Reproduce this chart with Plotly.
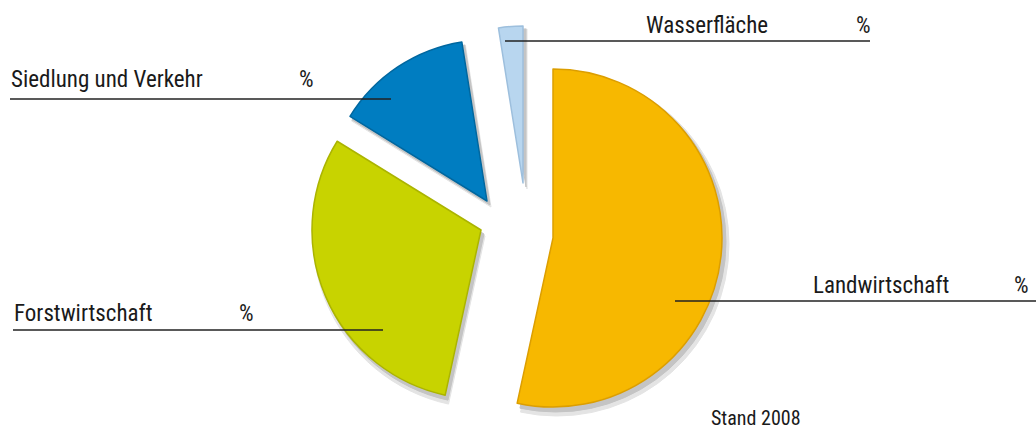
import plotly.graph_objects as go

W, H = 1036, 434

# data
categories = ["Landwirtschaft", "Forstwirtschaft", "Siedlung und Verkehr", "Wasserfläche"]
shares = [53.4, 30.4, 13.7, 2.5]
colors = ["#F7B800", "#C8D300", "#007DC1", "#B8D6EF"]
edge_colors = ["#DC9E00", "#ABB400", "#00679F", "#9DBFDD"]
pct_label = "%"
note = "Stand 2008"


def px(x):
    return x / W


def py(y):
    return 1 - y / H


FONT = "Roboto Condensed, Liberation Sans Narrow, DejaVu Sans Condensed, Noto Sans, sans-serif"
CLEAR = "rgba(255,255,255,0)"

# exploded-slice placement: tip (vertex) position and radius of each slice, in pixels
slice_geom = {
    "Landwirtschaft": (553, 238, 169),
    "Forstwirtschaft": (481, 230, 169),
    "Siedlung und Verkehr": (487, 201, 161),
    "Wasserfläche": (523, 183, 157),
}
shadow_layers = [(4, 6, 3, "#E4E4E4"), (3, 4, 1, "#C4C4C4")]


def dom(cx, cy, r):
    return dict(x=[px(cx - r), px(cx + r)], y=[py(cy + r), py(cy - r)])


fig = go.Figure()

# drop shadows (grey copies, slightly offset and enlarged)
for dx, dy, dr, shade in shadow_layers:
    for k, name in enumerate(categories):
        cx, cy, r = slice_geom[name]
        fig.add_trace(go.Pie(
            labels=categories, values=shares, sort=False, direction="clockwise",
            rotation=0, textinfo="none", hoverinfo="skip",
            marker=dict(colors=[shade if i == k else CLEAR for i in range(len(categories))],
                        line=dict(color=[shade if i == k else CLEAR
                                         for i in range(len(categories))],
                                  width=[1 if i == k else 0 for i in range(len(categories))])),
            domain=dom(cx + dx, cy + dy, r + dr), showlegend=False,
        ))

# coloured slices, one trace per exploded slice
for k, name in enumerate(categories):
    cx, cy, r = slice_geom[name]
    fig.add_trace(go.Pie(
        labels=categories, values=shares, sort=False, direction="clockwise",
        rotation=0, textinfo="none", hoverinfo="label+percent",
        marker=dict(colors=[colors[i] if i == k else CLEAR for i in range(len(categories))],
                    line=dict(color=[edge_colors[i] if i == k else CLEAR
                                     for i in range(len(categories))],
                              width=[1.5 if i == k else 0 for i in range(len(categories))])),
        domain=dom(cx, cy, r), showlegend=False,
    ))

# label layout: (text x, baseline y, pct x, line x0, line x1, line y)
label_layout = {
    "Siedlung und Verkehr": (10, 89, 298, 10, 391, 99),
    "Wasserfläche": (645, 35, 855, 505, 870, 41),
    "Forstwirtschaft": (13, 323, 238, 13, 383, 330),
    "Landwirtschaft": (812, 295, 1013, 675, 1036, 301),
}

FS = 23
annotations = []
shapes = []
for name in categories:
    tx, base, pxx, lx0, lx1, ly = label_layout[name]
    for text, x in ((name, tx), (pct_label, pxx)):
        annotations.append(
            dict(
                text=text, x=px(x - 1), y=py(base + 6), xref="paper", yref="paper",
                xanchor="left", yanchor="bottom", showarrow=False,
                font=dict(family=FONT, size=FS, color="#1a1a1a"),
            )
        )
    shapes.append(
        dict(type="line", xref="paper", yref="paper", x0=px(lx0), x1=px(lx1),
             y0=py(ly), y1=py(ly), line=dict(color="#222222", width=1.6))
    )

annotations.append(
    dict(text=note, x=px(709), y=py(432), xref="paper", yref="paper",
         xanchor="left", yanchor="bottom", showarrow=False,
         font=dict(family=FONT, size=20, color="#1a1a1a"))
)

fig.update_layout(
    width=W, height=H,
    margin=dict(l=0, r=0, t=0, b=0),
    paper_bgcolor="white", plot_bgcolor="white",
    annotations=annotations, shapes=shapes,
)

fig.write_html("out.html", config={"displayModeBar": False},
               post_script="document.body.style.margin='0px';")
